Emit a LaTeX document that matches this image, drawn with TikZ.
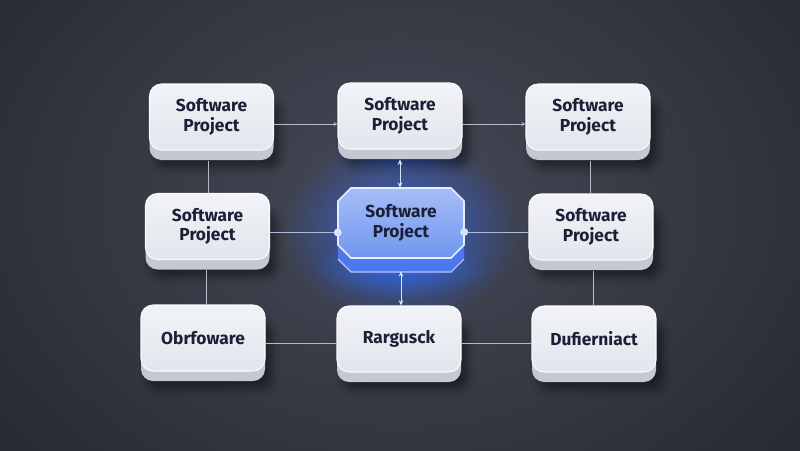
\documentclass[tikz,border=0pt]{standalone}
\usepackage{fontspec}
\newfontfamily\cardfnt{Fira Sans}
\usetikzlibrary{arrows.meta,shadows.blur,calc,fadings}
\definecolor{bgin}{HTML}{464957}
\definecolor{bgout}{HTML}{26282F}
\definecolor{facetop}{HTML}{F1F3F7}
\definecolor{facebot}{HTML}{E2E5EC}
\definecolor{edgecol}{HTML}{FAFBFD}
\definecolor{basecol}{HTML}{C3C8D3}
\definecolor{txtcol}{HTML}{1A2035}
\definecolor{conncol}{HTML}{B4BACA}
\definecolor{glowcol}{HTML}{2F6BFF}
\definecolor{cfacetop}{HTML}{A6BEF7}
\definecolor{cfacebot}{HTML}{7096EF}
\definecolor{cbase}{HTML}{4D78EC}
\definecolor{dotcol}{HTML}{D6E4FF}
\tikzfading[name=glowfade, inner color=transparent!0, outer color=transparent!100]
\tikzset{
  cardtext/.style={align=center, text=txtcol, font=\cardfnt\bfseries\fontsize{13}{14.5}\selectfont},
  card/.style={rectangle, rounded corners=9pt, minimum width=93pt, minimum height=49.5pt,
    top color=facetop, bottom color=facebot, draw=edgecol, line width=0.8pt, cardtext,
    blur shadow={shadow xshift=5pt, shadow yshift=-13pt, shadow blur radius=6pt, shadow opacity=45},
    preaction={fill=basecol, transform canvas={yshift=-7.5pt}}},
  conn/.style={draw=conncol, line width=0.6pt},
  biarrow/.style={draw=dotcol, line width=0.7pt, {Stealth[length=4pt,width=3.5pt]}-{Stealth[length=4pt,width=3.5pt]}},
  onearrow/.style={conn, -{Stealth[length=3pt,width=3pt]}},
  glowdot/.style={circle, fill=dotcol, inner sep=0pt, minimum size=6pt}
}
\begin{document}
\begin{tikzpicture}[x=0.75pt,y=-0.75pt]
\useasboundingbox (0,0) rectangle (800,450);
\shade[inner color=bgin, outer color=bgout] (-150,-220) rectangle (950,620);
% glow around centre
\fill[glowcol, opacity=0.75, path fading=glowfade] (401,232) ellipse (120 and 95);
\fill[glowcol, opacity=0.6, path fading=glowfade] (401,268) ellipse (90 and 30);
\fill[glowcol, opacity=0.55, path fading=glowfade] (400,156) ellipse (70 and 18);
% centre base and face
\fill[cbase] (351,202) -- (451,202) -- (464,215) -- (464,259) -- (451,272) -- (351,272) -- (338,259) -- (338,215) -- cycle;
\draw[white!60!cbase, line width=0.8pt] (338,259) -- (351,272) -- (451,272) -- (464,259);
\fill[top color=cfacetop, bottom color=cfacebot] (351,188) -- (451,188) -- (464,201) -- (464,245) -- (451,258) -- (351,258) -- (338,245) -- (338,201) -- cycle;
\draw[white!92!blue, line width=1.3pt] (351,188) -- (451,188) -- (464,201) -- (464,245) -- (451,258) -- (351,258) -- (338,245) -- (338,201) -- cycle;
\node (C) [rectangle, minimum width=94.5pt, minimum height=52.5pt, cardtext] at (401,223) {Software\\Project};
% cards
\node (TL) [card] at (211.5,117) {Software\\Project};
\node (TM) [card] at (400,116) {Software\\Project};
\node (TR) [card] at (588,117) {Software\\Project};
\node (ML) [card] at (207.5,226.5) {Software\\Project};
\node (MR) [card] at (591,227) {Software\\Project};
\node (BL) [card] at (203,338) {Obrfoware};
\node (BM) [card] at (399,339) {Rargusck};
\node (BR) [card] at (594,339) {Dufierniact};
% connectors
\draw[onearrow] ([yshift=-5.25pt]TL.east) -- ([yshift=-5.25pt]TL.east -| TM.west);
\draw[onearrow] ([yshift=-6pt]TM.east) -- ([yshift=-6pt]TM.east -| TR.west);
\draw[conn] ([xshift=-2pt,yshift=-7.5pt]TL.south) -- ([xshift=-2pt]TL.south |- ML.north);
\draw[conn] ([xshift=-1pt,yshift=-7.5pt]ML.south) -- ([xshift=-1pt]ML.south |- BL.north);
\draw[conn] ([xshift=1.5pt,yshift=-7.5pt]TR.south) -- ([xshift=1.5pt]TR.south |- MR.north);
\draw[conn] ([xshift=1.5pt,yshift=-7.5pt]MR.south) -- ([xshift=1.5pt]MR.south |- BR.north);
\draw[biarrow] ([yshift=-7.5pt]TM.south) -- (C.north -| TM.south);
\draw[biarrow] ([yshift=-9.75pt]C.south) -- (BM.north -| C.south);
\draw[conn, draw=conncol!60!cfacetop] ([yshift=-4.5pt]ML.east) -- ([yshift=-4.5pt]ML.east -| C.west) node (dl) [glowdot] {};
\draw[conn, draw=conncol!60!cfacetop] ([yshift=-6.75pt]C.east) node (dr) [glowdot] {} -- ([yshift=-6.75pt]C.east -| MR.west);
\draw[conn] ([yshift=-3.75pt]BL.east) -- ([yshift=-3.75pt]BL.east -| BM.west);
\draw[conn] ([yshift=-3pt]BM.east) -- ([yshift=-3pt]BM.east -| BR.west);
\end{tikzpicture}
\end{document}
